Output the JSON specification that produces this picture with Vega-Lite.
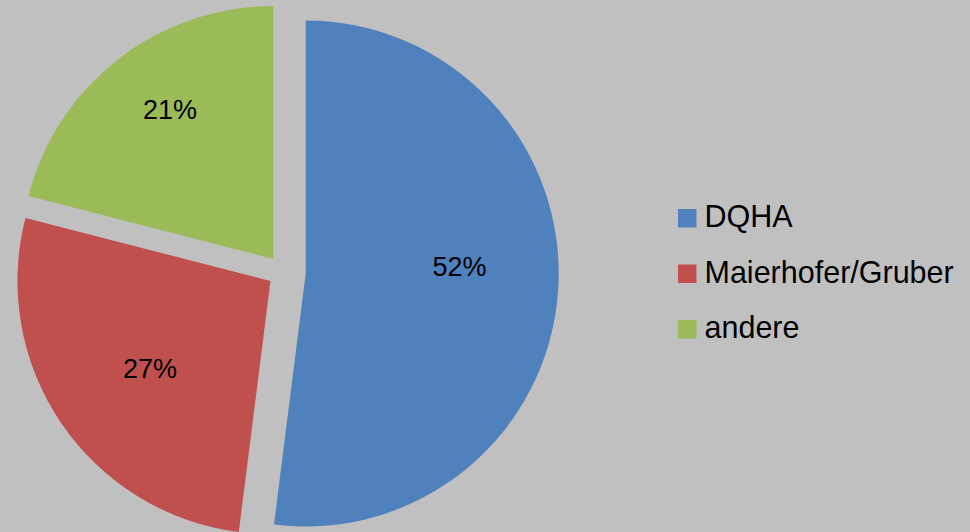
{
  "$schema": "https://vega.github.io/schema/vega-lite/v6.json",
  "autosize": {"type": "none"},
  "width": 578,
  "height": 532,
  "padding": {"left": 0, "top": 0, "right": 392, "bottom": 0},
  "background": "#c0c0c0",
  "config": {
    "view": {"stroke": null},
    "legend": {
      "orient": "none",
      "legendX": 672,
      "legendY": 203,
      "padding": 0,
      "symbolType": "square",
      "symbolSize": 340,
      "symbolStrokeWidth": 0,
      "symbolOpacity": 1,
      "labelFont": "Liberation Sans",
      "labelFontSize": 30.5,
      "labelColor": "#000000",
      "labelOffset": 2,
      "rowPadding": 24.5,
      "labelLimit": 400
    }
  },
  "data": {
    "values": [
      {"label": "DQHA", "share": 0.52, "order": 1},
      {"label": "Maierhofer/Gruber", "share": 0.27, "order": 2},
      {"label": "andere", "share": 0.21, "order": 3}
    ]
  },
  "encoding": {
    "theta": {"field": "share", "type": "quantitative", "stack": true},
    "order": {"field": "order", "type": "quantitative", "sort": "ascending"}
  },
  "layer": [
    {
      "mark": {"type": "arc", "outerRadius": 253, "xOffset": 16.7, "yOffset": 7.5},
      "encoding": {
        "color": {"field": "label", "type": "nominal", "title": null,
          "scale": {"domain": ["DQHA", "Maierhofer/Gruber", "andere"], "range": ["#4f81bd", "#c0504d", "#9bbb59"]}},
        "opacity": {"condition": {"test": "datum.label === 'DQHA'", "value": 1}, "value": 0}
      }
    },
    {
      "mark": {"type": "arc", "outerRadius": 253, "xOffset": -18.5, "yOffset": 15},
      "encoding": {
        "color": {"field": "label", "type": "nominal", "title": null},
        "opacity": {"condition": {"test": "datum.label === 'Maierhofer/Gruber'", "value": 1}, "value": 0}
      }
    },
    {
      "mark": {"type": "arc", "outerRadius": 253, "xOffset": -15.5, "yOffset": -7},
      "encoding": {
        "color": {"field": "label", "type": "nominal", "title": null},
        "opacity": {"condition": {"test": "datum.label === 'andere'", "value": 1}, "value": 0}
      }
    },
    {
      "mark": {"type": "text", "radius": 154, "xOffset": 16.7, "yOffset": 7.5, "dy": -15, "font": "Liberation Sans", "fontSize": 27, "color": "#000000"},
      "encoding": {
        "detail": {"field": "label"},
        "text": {"field": "share", "type": "quantitative", "format": ".0%"},
        "opacity": {"condition": {"test": "datum.label === 'DQHA'", "value": 1}, "value": 0}
      }
    },
    {
      "mark": {"type": "text", "radius": 150, "xOffset": -18.5, "yOffset": 15, "dx": 3.6, "dy": 4.7, "font": "Liberation Sans", "fontSize": 27, "color": "#000000"},
      "encoding": {
        "detail": {"field": "label"},
        "text": {"field": "share", "type": "quantitative", "format": ".0%"},
        "opacity": {"condition": {"test": "datum.label === 'Maierhofer/Gruber'", "value": 1}, "value": 0}
      }
    },
    {
      "mark": {"type": "text", "radius": 181, "xOffset": -15.5, "yOffset": -7, "dx": 7.4, "dy": -5.3, "font": "Liberation Sans", "fontSize": 27, "color": "#000000"},
      "encoding": {
        "detail": {"field": "label"},
        "text": {"field": "share", "type": "quantitative", "format": ".0%"},
        "opacity": {"condition": {"test": "datum.label === 'andere'", "value": 1}, "value": 0}
      }
    }
  ]
}
